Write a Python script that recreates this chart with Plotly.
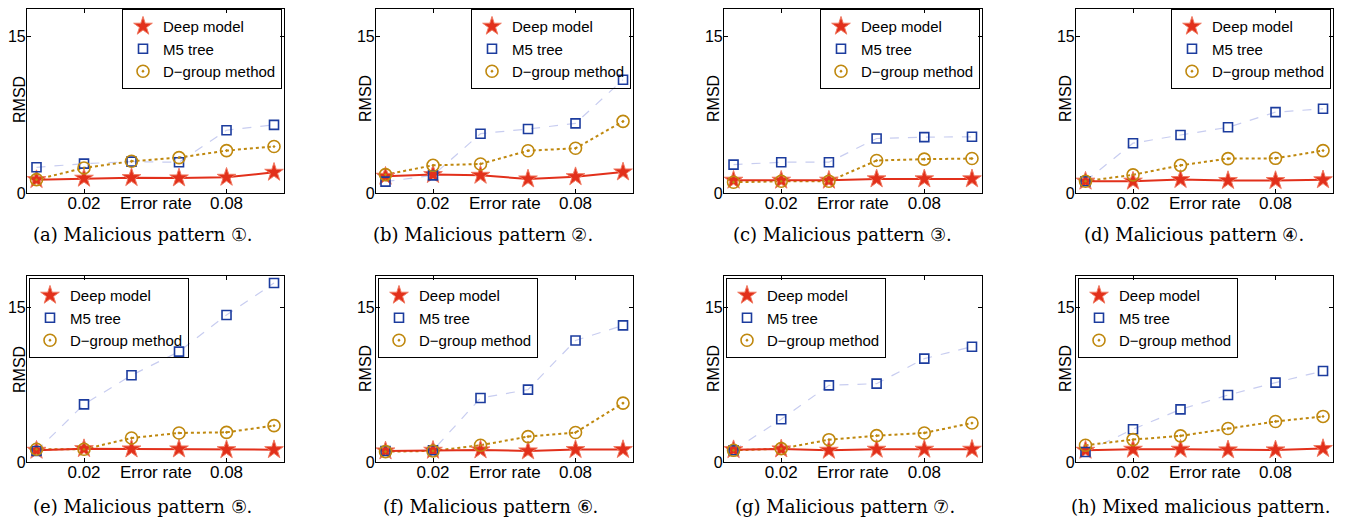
import plotly.graph_objects as go

# The page keeps the browser's default 8px body margin, so the figure is
# drawn 8px right/down of the page origin; geometry below is in page pixels.
PAGE_W, PAGE_H = 1358, 520
OFF = 8
W, H = PAGE_W - OFF, PAGE_H - OFF

# ---------------- data ----------------
error_rates = [0.0, 0.02, 0.04, 0.06, 0.08, 0.10]
x_tick_vals = [0.02, 0.08]
x_tick_text = ["0.02", "0.08"]
y_tick_vals = [0, 15]
y_tick_text = ["0", "15"]
series_names = ["Deep model", "M5 tree", "D−group method"]
x_label = "Error rate"
y_label = "RMSD"
captions = [
    "(a) Malicious pattern ①.",
    "(b) Malicious pattern ②.",
    "(c) Malicious pattern ③.",
    "(d) Malicious pattern ④.",
    "(e) Malicious pattern ⑤.",
    "(f) Malicious pattern ⑥.",
    "(g) Malicious pattern ⑦.",
    "(h) Mixed malicious pattern.",
]

deep_a = [1.28, 1.41, 1.47, 1.44, 1.50, 1.98]
m5_a = [2.46, 2.81, 3.00, 2.94, 6.01, 6.52]
dg_a = [1.28, 2.40, 3.04, 3.39, 4.06, 4.45]

deep_b = [1.60, 1.76, 1.69, 1.34, 1.56, 2.01]
m5_b = [1.09, 1.69, 5.68, 6.13, 6.67, 10.85]
dg_b = [1.76, 2.65, 2.78, 4.05, 4.28, 6.86]

deep_c = [1.22, 1.22, 1.22, 1.35, 1.35, 1.35]
m5_c = [2.72, 2.95, 2.95, 5.22, 5.35, 5.38]
dg_c = [1.03, 1.12, 1.12, 3.11, 3.24, 3.30]

deep_d = [1.13, 1.13, 1.29, 1.19, 1.19, 1.26]
m5_d = [1.13, 4.77, 5.55, 6.29, 7.74, 8.06]
dg_d = [1.13, 1.74, 2.65, 3.29, 3.32, 4.06]

deep_e = [1.13, 1.29, 1.26, 1.26, 1.19, 1.19]
m5_e = [1.06, 5.58, 8.39, 10.68, 14.23, 17.32]
dg_e = [1.23, 1.23, 2.32, 2.81, 2.87, 3.52]

deep_f = [1.07, 1.13, 1.17, 1.07, 1.20, 1.20]
m5_f = [1.07, 1.13, 6.19, 7.00, 11.76, 13.22]
dg_f = [1.00, 1.07, 1.62, 2.46, 2.85, 5.70]

deep_g = [1.19, 1.26, 1.13, 1.23, 1.23, 1.23]
m5_g = [1.13, 4.13, 7.42, 7.58, 10.00, 11.16]
dg_g = [1.13, 1.29, 2.16, 2.55, 2.81, 3.77]

deep_h = [1.13, 1.23, 1.23, 1.17, 1.17, 1.30]
m5_h = [0.97, 3.17, 5.09, 6.48, 7.68, 8.81]
dg_h = [1.62, 2.17, 2.53, 3.24, 3.92, 4.41]

panels = [
    (deep_a, m5_a, dg_a), (deep_b, m5_b, dg_b), (deep_c, m5_c, dg_c), (deep_d, m5_d, dg_d),
    (deep_e, m5_e, dg_e), (deep_f, m5_f, dg_f), (deep_g, m5_g, dg_g), (deep_h, m5_h, dg_h),
]

# ---------------- layout geometry (page pixels) ----------------
col_px = [(27, 284), (376, 633), (724, 982), (1076, 1333)]
row_px = [(5, 193), (276, 462)]          # (top, bottom) of axes where y in [0, 18]
y_full_top = 18.0
caption_x = [142, 483, 842, 1194, 142, 491, 845, 1200]
caption_y = [234, 506]

RED = "#e2301b"
RED_EDGE = "#f07a62"
BLUE = "#1c3c9e"
BLUE_LINE = "#c8cdf0"
GOLD = "#bf880e"

SANS = "Liberation Sans, Arial, sans-serif"
SERIF = "DejaVu Serif, Liberation Serif, serif"

fig = go.Figure()
annotations = []
layout = dict(
    width=W, height=H,
    margin=dict(l=0, r=0, t=0, b=0, autoexpand=False),
    paper_bgcolor="white", plot_bgcolor="white",
    font=dict(family=SANS, size=17, color="black"),
)


def px_x(p):
    return (p - OFF) / W


def px_y(p):
    return 1 - (p - OFF) / H


for i, (deep, m5, dg) in enumerate(panels):
    r, c = divmod(i, 4)
    x0, x1 = col_px[c]
    y0, y1 = row_px[r]
    # clip axes top to the visible figure area, keeping the same data scale
    top = max(y0, OFF + 0.6)
    y_top = y_full_top * (y1 - top) / (y1 - y0)
    n = i + 1
    xa = "xaxis" if n == 1 else f"xaxis{n}"
    ya = "yaxis" if n == 1 else f"yaxis{n}"
    xr = "x" if n == 1 else f"x{n}"
    yr = "y" if n == 1 else f"y{n}"
    lg = "legend" if n == 1 else f"legend{n}"

    layout[xa] = dict(
        domain=[px_x(x0), px_x(x1)], anchor=yr, range=[-0.004, 0.1042],
        tickvals=x_tick_vals, ticktext=x_tick_text, ticks="inside", ticklen=4,
        tickcolor="black", showline=True, linecolor="black", linewidth=1.2,
        mirror="ticks", showgrid=False, zeroline=False,
        tickfont=dict(family=SANS, size=17), ticklabelstandoff=-6,
    )
    layout[ya] = dict(
        domain=[px_y(y1), px_y(top)], anchor=xr, range=[0, y_top],
        tickvals=y_tick_vals, ticktext=y_tick_text, ticks="inside", ticklen=4,
        tickcolor="black", showline=True, linecolor="black", linewidth=1.2,
        mirror="ticks", showgrid=False, zeroline=False,
        tickfont=dict(family=SANS, size=16), ticklabelstandoff=-3,
    )

    # lines (no legend)
    fig.add_trace(go.Scatter(x=error_rates, y=m5, mode="lines", xaxis=xr, yaxis=yr,
                             line=dict(color=BLUE_LINE, width=1.2, dash="dash"),
                             showlegend=False, hoverinfo="skip"))
    fig.add_trace(go.Scatter(x=error_rates, y=dg, mode="lines", xaxis=xr, yaxis=yr,
                             line=dict(color=GOLD, width=2, dash="dot"),
                             showlegend=False, hoverinfo="skip"))
    fig.add_trace(go.Scatter(x=error_rates, y=deep, mode="lines", xaxis=xr, yaxis=yr,
                             line=dict(color=RED, width=2),
                             showlegend=False, hoverinfo="skip"))
    # markers (legend entries)
    fig.add_trace(go.Scatter(x=error_rates, y=deep, mode="markers", xaxis=xr, yaxis=yr,
                             name=series_names[0], legend=lg,
                             marker=dict(symbol="star", size=14, color=RED,
                                         line=dict(color=RED_EDGE, width=1))))
    fig.add_trace(go.Scatter(x=error_rates, y=m5, mode="markers", xaxis=xr, yaxis=yr,
                             name=series_names[1], legend=lg,
                             marker=dict(symbol="square-open", size=9, color=BLUE,
                                         line=dict(width=1.6))))
    fig.add_trace(go.Scatter(x=error_rates, y=dg, mode="markers", xaxis=xr, yaxis=yr,
                             name=series_names[2], legend=lg,
                             marker=dict(symbol="circle-open-dot", size=12, color=GOLD,
                                         line=dict(width=1.6))))

    if r == 0:
        leg = dict(x=px_x(x1 - 2), y=px_y(OFF + 1), xanchor="right", yanchor="top")
    else:
        leg = dict(x=px_x(x0 + 2), y=px_y(y0 + 2), xanchor="left", yanchor="top")
    leg.update(bgcolor="rgba(255,255,255,0)", bordercolor="black", borderwidth=1,
               font=dict(family=SANS, size=15, color="black"),
               itemwidth=30, tracegroupgap=0, traceorder="normal")
    layout[lg] = leg

    # x label sits at tick-label level, centered under axis
    annotations.append(dict(text=x_label, xref="paper", yref="paper",
                            x=px_x((x0 + x1) / 2), y=px_y(y1 + 10),
                            xanchor="center", yanchor="middle", showarrow=False,
                            font=dict(family=SANS, size=17)))
    # y label (kept inside the visible page area)
    annotations.append(dict(text=y_label, xref="paper", yref="paper",
                            x=px_x(max(x0 - 11, OFF + 11)), y=px_y((y0 + y1) / 2),
                            xanchor="center", yanchor="middle", showarrow=False,
                            textangle=-90, font=dict(family=SANS, size=16)))
    # caption
    annotations.append(dict(text=captions[i], xref="paper", yref="paper",
                            x=px_x(caption_x[i]), y=px_y(caption_y[r]),
                            xanchor="center", yanchor="middle", showarrow=False,
                            font=dict(family=SERIF, size=18)))

layout["annotations"] = annotations
fig.update_layout(**layout)
fig.write_html("out.html")
